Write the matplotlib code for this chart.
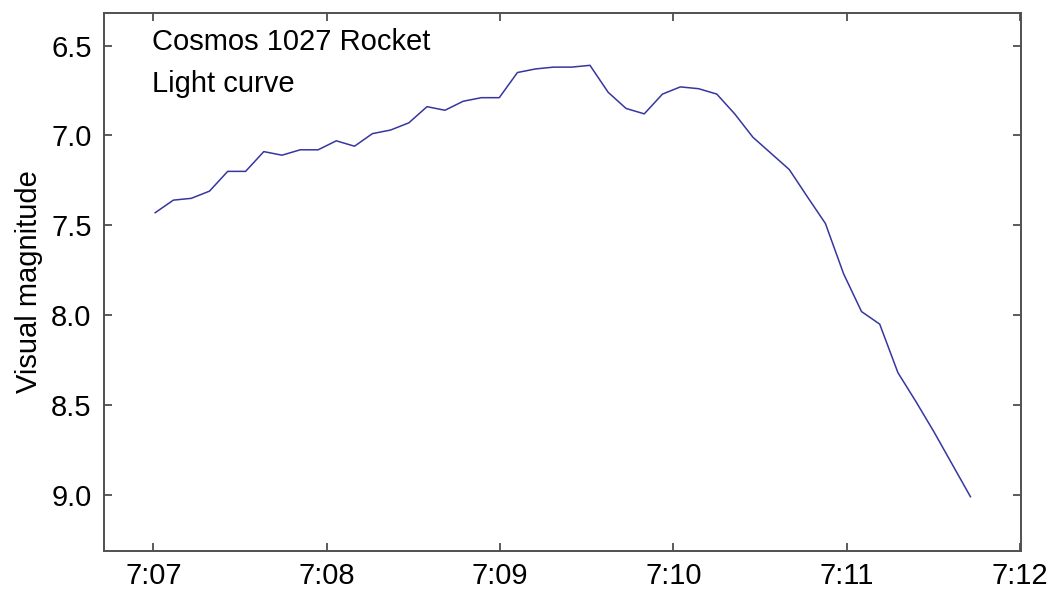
import matplotlib.pyplot as plt
import matplotlib.ticker as mticker

# seconds after 7:07:00
seconds = [0.6, 6.9, 13.1, 19.4, 25.7, 31.9, 38.2, 44.5, 50.8, 57.0,
           63.3, 69.6, 75.8, 82.1, 88.4, 94.7, 100.9, 107.2, 113.5, 119.7,
           126.0, 132.3, 138.5, 144.8, 151.1, 157.4, 163.6, 169.9, 176.2, 182.4,
           188.7, 195.0, 201.2, 207.5, 213.8, 220.1, 226.3, 232.6, 238.9, 245.1,
           251.4, 257.7, 263.9, 270.2, 276.5, 282.8]
magnitude = [7.43, 7.36, 7.35, 7.31, 7.20, 7.20, 7.09, 7.11, 7.08, 7.08,
             7.03, 7.06, 6.99, 6.97, 6.93, 6.84, 6.86, 6.81, 6.79, 6.79,
             6.65, 6.63, 6.62, 6.62, 6.61, 6.76, 6.85, 6.88, 6.77, 6.73,
             6.74, 6.77, 6.88, 7.01, 7.10, 7.19, 7.34, 7.49, 7.77, 7.98,
             8.05, 8.32, 8.48, 8.65, 8.83, 9.01]
tick_minutes = [7, 8, 9, 10, 11, 12]
y_ticks = [6.5, 7.0, 7.5, 8.0, 8.5, 9.0]

plt.rcParams['font.family'] = ['Liberation Sans', 'DejaVu Sans']
fs = 21

minutes = [7 + s / 60 for s in seconds]

fig = plt.figure(figsize=(10.53, 5.92), dpi=100)
ax = fig.add_axes([0.0988, 0.0693, 0.8708, 0.9087])

ax.plot(minutes, magnitude, color='#3636a0', lw=1.1)

ax.set_xlim(6.715, 12.005)
ax.set_ylim(9.312, 6.319)
ax.set_xticks(tick_minutes)
ax.xaxis.set_major_formatter(mticker.FuncFormatter(lambda v, p: f"7:{int(round(v)):02d}"))
ax.set_yticks(y_ticks)
ax.yaxis.set_major_formatter(mticker.FormatStrFormatter('%.1f'))

ax.tick_params(direction='in', length=6, width=1.2, color='#404040',
               top=True, right=True, labelsize=fs)
ax.tick_params(axis='x', pad=8)
ax.tick_params(axis='y', pad=9)
for sp in ax.spines.values():
    sp.set_color('#505050')
    sp.set_linewidth(1.4)

ax.set_ylabel('Visual magnitude', fontsize=fs, labelpad=6)

ax.text(0.052, 0.931, 'Cosmos 1027 Rocket', transform=ax.transAxes,
        fontsize=fs, va='baseline', ha='left')
ax.text(0.052, 0.853, 'Light curve', transform=ax.transAxes,
        fontsize=fs, va='baseline', ha='left')

fig.savefig('out.png', dpi=100)
